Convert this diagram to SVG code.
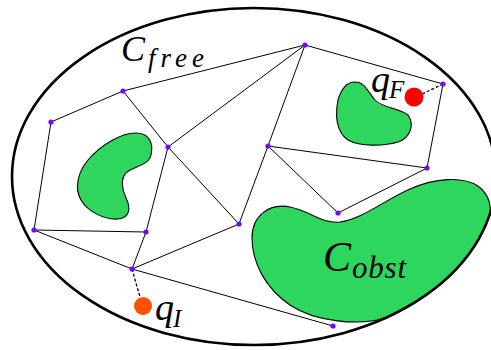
<svg xmlns="http://www.w3.org/2000/svg" width="491" height="350" viewBox="0 0 491 350">
<style>
.obst{fill:#2ed65e;stroke:#000;stroke-width:1.1}
.edge{stroke:#000;stroke-width:1;fill:none}
.dash{stroke:#000;stroke-width:1.3;stroke-dasharray:3,2;fill:none}
.node{fill:#7f00ff}
.lbl{font-family:"Liberation Serif","DejaVu Serif",serif;font-style:italic;fill:#000}
</style>
<rect width="491" height="350" fill="#fff"/>
<g id="obstacles">
<path id="obst1" class="obst" d="M136,133 C148,133 154,142 151,155 C149,165 135,166 127,172 C120,178 122,190 126,198 C131,208 130,218 118,219 C105,220 88,212 81,200 C74,188 78,172 88,160 C100,146 120,133 136,133 Z"/>
<path id="obst2" class="obst" d="M355,82 C365,82 368,92 375,100 C382,108 400,108 408,115 C415,125 410,138 398,142 C385,146 360,147 348,140 C336,132 335,115 338,100 C341,90 346,82 355,82 Z"/>
<path id="obst3" class="obst" d="M252,238 C252,215 270,203 290,207 C310,211 322,224 340,222 C362,219 385,200 410,189 C435,178 462,176 478,186 C490,195 492,208 489,217 A242,168.5 0 0,1 385,318 C360,326 315,322 290,305 C265,288 252,262 252,238 Z"/>
</g>
<ellipse id="cspace" cx="254" cy="176.5" rx="242" ry="168.5" fill="none" stroke="#000" stroke-width="2.6"/>
<g id="connectors">
<line class="edge" x1="123" y1="91" x2="305" y2="45"/>
<line class="edge" x1="123" y1="91" x2="51" y2="122"/>
<line class="edge" x1="123" y1="91" x2="168" y2="147"/>
<line class="edge" x1="168" y1="147" x2="305" y2="45"/>
<line class="edge" x1="168" y1="147" x2="146" y2="232"/>
<line class="edge" x1="168" y1="147" x2="239" y2="224"/>
<line class="edge" x1="51" y1="122" x2="34" y2="230"/>
<line class="edge" x1="34" y1="230" x2="146" y2="232"/>
<line class="edge" x1="34" y1="230" x2="132" y2="269"/>
<line class="edge" x1="146" y1="232" x2="132" y2="269"/>
<line class="edge" x1="132" y1="269" x2="239" y2="224"/>
<line class="edge" x1="132" y1="269" x2="333" y2="326"/>
<line class="edge" x1="239" y1="224" x2="268" y2="146"/>
<line class="edge" x1="305" y1="45" x2="268" y2="146"/>
<line class="edge" x1="305" y1="45" x2="443" y2="84"/>
<line class="edge" x1="443" y1="84" x2="427" y2="168"/>
<line class="edge" x1="268" y1="146" x2="427" y2="168"/>
<line class="edge" x1="268" y1="146" x2="338" y2="213"/>
<line class="edge" x1="427" y1="168" x2="338" y2="213"/>
<line class="dash" x1="443" y1="84" x2="420" y2="95"/>
<line class="dash" x1="132" y1="269" x2="140" y2="297"/>
</g>
<g id="nodes">
<circle id="n1" class="node" cx="123" cy="91" r="2.6"/>
<circle id="n2" class="node" cx="51" cy="122" r="2.6"/>
<circle id="n3" class="node" cx="168" cy="147" r="2.6"/>
<circle id="n4" class="node" cx="305" cy="45" r="2.6"/>
<circle id="n5" class="node" cx="443" cy="84" r="2.6"/>
<circle id="n6" class="node" cx="268" cy="146" r="2.6"/>
<circle id="n7" class="node" cx="427" cy="168" r="2.6"/>
<circle id="n8" class="node" cx="34" cy="230" r="2.6"/>
<circle id="n9" class="node" cx="146" cy="232" r="2.6"/>
<circle id="n10" class="node" cx="132" cy="269" r="2.6"/>
<circle id="n11" class="node" cx="239" cy="224" r="2.6"/>
<circle id="n12" class="node" cx="338" cy="213" r="2.6"/>
<circle id="n13" class="node" cx="333" cy="326" r="2.6"/>
</g>
<g id="qF">
<circle cx="414" cy="97" r="9.5" fill="#ff0000"/>
<text class="lbl" x="371" y="92" font-size="38">q</text>
<text class="lbl" x="389" y="98" font-size="25">F</text>
</g>
<g id="qI">
<circle cx="143" cy="306" r="9" fill="#ff5000"/>
<text class="lbl" x="155" y="320" font-size="38">q</text>
<text class="lbl" x="173" y="327" font-size="25">I</text>
</g>
<g id="label-free">
<text class="lbl" x="121" y="61" font-size="36">C</text>
<text class="lbl" x="148" y="67" font-size="27" textLength="56" lengthAdjust="spacing">free</text>
</g>
<g id="label-obst">
<text class="lbl" x="323" y="271" font-size="42">C</text>
<text class="lbl" x="352" y="278" font-size="31" textLength="54" lengthAdjust="spacing">obst</text>
</g>
</svg>
